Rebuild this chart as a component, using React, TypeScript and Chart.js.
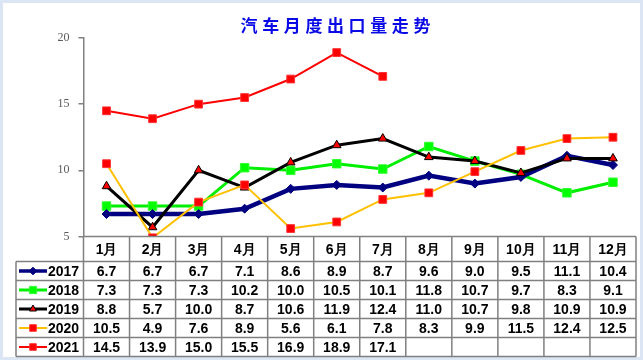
import React, { useEffect, useRef } from 'react';
import { Chart, registerables } from 'chart.js';

Chart.register(...registerables);

const title = '汽车月度出口量走势';
const months = ['1月', '2月', '3月', '4月', '5月', '6月', '7月', '8月', '9月', '10月', '11月', '12月'];
const years = ['2017', '2018', '2019', '2020', '2021'];
const s2017 = [6.7, 6.7, 6.7, 7.1, 8.6, 8.9, 8.7, 9.6, 9.0, 9.5, 11.1, 10.4];
const s2018 = [7.3, 7.3, 7.3, 10.2, 10.0, 10.5, 10.1, 11.8, 10.7, 9.7, 8.3, 9.1];
const s2019 = [8.8, 5.7, 10.0, 8.7, 10.6, 11.9, 12.4, 11.0, 10.7, 9.8, 10.9, 10.9];
const s2020 = [10.5, 4.9, 7.6, 8.9, 5.6, 6.1, 7.8, 8.3, 9.9, 11.5, 12.4, 12.5];
const s2021 = [14.5, 13.9, 15.0, 15.5, 16.9, 18.9, 17.1, null, null, null, null, null];
const seriesValues = [s2017, s2018, s2019, s2020, s2021];
const yMin = 5;
const yMax = 20;
const yStep = 5;

type Style = {
  line: string;
  width: number;
  point: 'rectRot' | 'rect' | 'triangle';
  radius: number;
  fill: string;
  border: string;
  borderW: number;
  order: number;
};

const styles: Style[] = [
  { line: '#000080', width: 4.5, point: 'rectRot', radius: 4.5, fill: '#000080', border: '#000080', borderW: 1, order: 3 },
  { line: '#00ee00', width: 3, point: 'rect', radius: 6, fill: '#00ff00', border: '#33ff33', borderW: 1, order: 4 },
  { line: '#000000', width: 3, point: 'triangle', radius: 5, fill: '#ff0000', border: '#000000', borderW: 1, order: 2 },
  { line: '#ffc000', width: 2, point: 'rect', radius: 5.5, fill: '#ff0000', border: '#ff3333', borderW: 1, order: 1 },
  { line: '#ff0000', width: 2, point: 'rect', radius: 5.5, fill: '#ff0000', border: '#ff3333', borderW: 1, order: 0 },
];

const tableFont = 'bold 14px "Liberation Sans", Arial, sans-serif';

function drawMarker(ctx: CanvasRenderingContext2D, st: Style, x: number, y: number, r: number) {
  ctx.beginPath();
  if (st.point === 'rect') {
    const s = Math.SQRT1_2 * r;
    ctx.rect(x - s, y - s, 2 * s, 2 * s);
  } else if (st.point === 'rectRot') {
    ctx.moveTo(x - r, y);
    ctx.lineTo(x, y - r);
    ctx.lineTo(x + r, y);
    ctx.lineTo(x, y + r);
    ctx.closePath();
  } else {
    ctx.moveTo(x, y - r);
    ctx.lineTo(x + r * 0.866, y + r * 0.5);
    ctx.lineTo(x - r * 0.866, y + r * 0.5);
    ctx.closePath();
  }
  ctx.fillStyle = st.fill;
  ctx.fill();
  ctx.strokeStyle = st.border;
  ctx.lineWidth = st.borderW;
  ctx.stroke();
}

const framePlugin = {
  id: 'frame',
  beforeDraw(chart: any) {
    const { ctx, width, height } = chart;
    ctx.save();
    ctx.fillStyle = '#ffffff';
    ctx.fillRect(0, 0, width, height);
    ctx.restore();
  },
  afterDraw(chart: any) {
    const { ctx, width, height } = chart;
    ctx.save();
    ctx.fillStyle = '#0a0ae6';
    ctx.font = 'bold 17px "Noto Sans CJK SC"';
    ctx.textAlign = 'center';
    ctx.textBaseline = 'middle';
    const chars = Array.from(title);
    const step = 21.6;
    const cx0 = 335.5 - (step * (chars.length - 1)) / 2;
    chars.forEach((c, i) => ctx.fillText(c, cx0 + i * step, 25.5));
    ctx.strokeStyle = '#dbe5f4';
    ctx.lineWidth = 3;
    ctx.strokeRect(1.5, 1.5, width - 3, height - 3);
    ctx.restore();
  },
};

const tablePlugin = {
  id: 'dataTable',
  afterDraw(chart: any) {
    const ctx: CanvasRenderingContext2D = chart.ctx;
    const a = chart.chartArea;
    const xs = chart.scales.x;
    const n = months.length;
    const cw = (a.right - a.left) / n;
    const top = a.bottom;
    const hh = 25;
    const rh = 19;
    const legL = 16;
    const rowsTop = top + hh;
    const bottom = rowsTop + rh * years.length;
    ctx.save();
    ctx.fillStyle = '#ffffff';
    ctx.fillRect(a.left, top, a.right - a.left, hh);
    ctx.fillRect(legL, rowsTop, a.right - legL, bottom - rowsTop);

    ctx.strokeStyle = '#808080';
    ctx.lineWidth = 1.5;
    ctx.beginPath();
    ctx.moveTo(a.left, top);
    ctx.lineTo(a.right, top);
    for (let r = 0; r <= years.length; r++) {
      const y = rowsTop + r * rh;
      ctx.moveTo(legL, y);
      ctx.lineTo(a.right, y);
    }
    ctx.moveTo(legL, rowsTop);
    ctx.lineTo(legL, bottom);
    for (let i = 0; i <= n; i++) {
      const x = a.left + i * cw;
      ctx.moveTo(x, top);
      ctx.lineTo(x, bottom);
    }
    ctx.stroke();

    ctx.fillStyle = '#000';
    ctx.font = tableFont;
    ctx.textAlign = 'center';
    ctx.textBaseline = 'middle';
    months.forEach((m, i) => {
      ctx.fillText(m, xs.getPixelForValue(i), top + hh / 2 + 1);
    });
    seriesValues.forEach((vals, r) => {
      const y = rowsTop + r * rh + rh / 2 + 1;
      vals.forEach((v, i) => {
        if (v === null || v === undefined) return;
        ctx.fillText((v as number).toFixed(1), xs.getPixelForValue(i), y);
      });
    });
    years.forEach((yr, r) => {
      const st = styles[r];
      const y = rowsTop + r * rh + rh / 2;
      ctx.strokeStyle = st.line;
      ctx.lineWidth = Math.min(st.width, 3.5);
      ctx.beginPath();
      ctx.moveTo(19, y);
      ctx.lineTo(47, y);
      ctx.stroke();
      drawMarker(ctx, st, 33, y, st.point === 'triangle' ? 4 : st.radius * 0.85);
      ctx.fillStyle = '#000';
      ctx.textAlign = 'left';
      ctx.font = tableFont;
      ctx.fillText(yr, 48, y + 1);
    });
    ctx.restore();
  },
};

export default function App() {
  const ref = useRef<HTMLCanvasElement | null>(null);
  useEffect(() => {
    document.body.style.margin = '0';
    const canvas = ref.current;
    if (!canvas) return;
    const chart = new Chart(canvas, {
      type: 'line',
      data: {
        labels: months,
        datasets: years.map((yr, i) => {
          const st = styles[i];
          return {
            label: yr,
            data: seriesValues[i],
            borderColor: st.line,
            borderWidth: st.width,
            backgroundColor: st.fill,
            pointStyle: st.point,
            pointRadius: st.radius,
            pointBackgroundColor: st.fill,
            pointBorderColor: st.border,
            pointBorderWidth: st.borderW,
            tension: 0,
            spanGaps: false,
            order: st.order,
          };
        }),
      },
      options: {
        responsive: true,
        maintainAspectRatio: false,
        animation: false,
        layout: { padding: { top: 38, bottom: 123.5, left: 0, right: 6 } },
        plugins: { legend: { display: false }, tooltip: { enabled: false }, title: { display: false } },
        scales: {
          x: { type: 'category', offset: true, display: false },
          y: {
            min: yMin,
            max: yMax,
            ticks: {
              stepSize: yStep,
              color: '#5a5a5a',
              padding: 9,
              font: { family: '"Liberation Serif", serif', size: 12 },
            },
            grid: { drawOnChartArea: false, drawTicks: true, tickLength: 5, color: '#808080', lineWidth: 1.5 },
            border: { color: '#808080', width: 1.5 },
            afterFit: (s: any) => {
              s.width = 83.5;
            },
          },
        },
      },
      plugins: [framePlugin, tablePlugin],
    });
    return () => chart.destroy();
  }, []);
  return (
    <div style={{ width: 643, height: 360, position: 'relative' }}>
      <canvas ref={ref} />
    </div>
  );
}
